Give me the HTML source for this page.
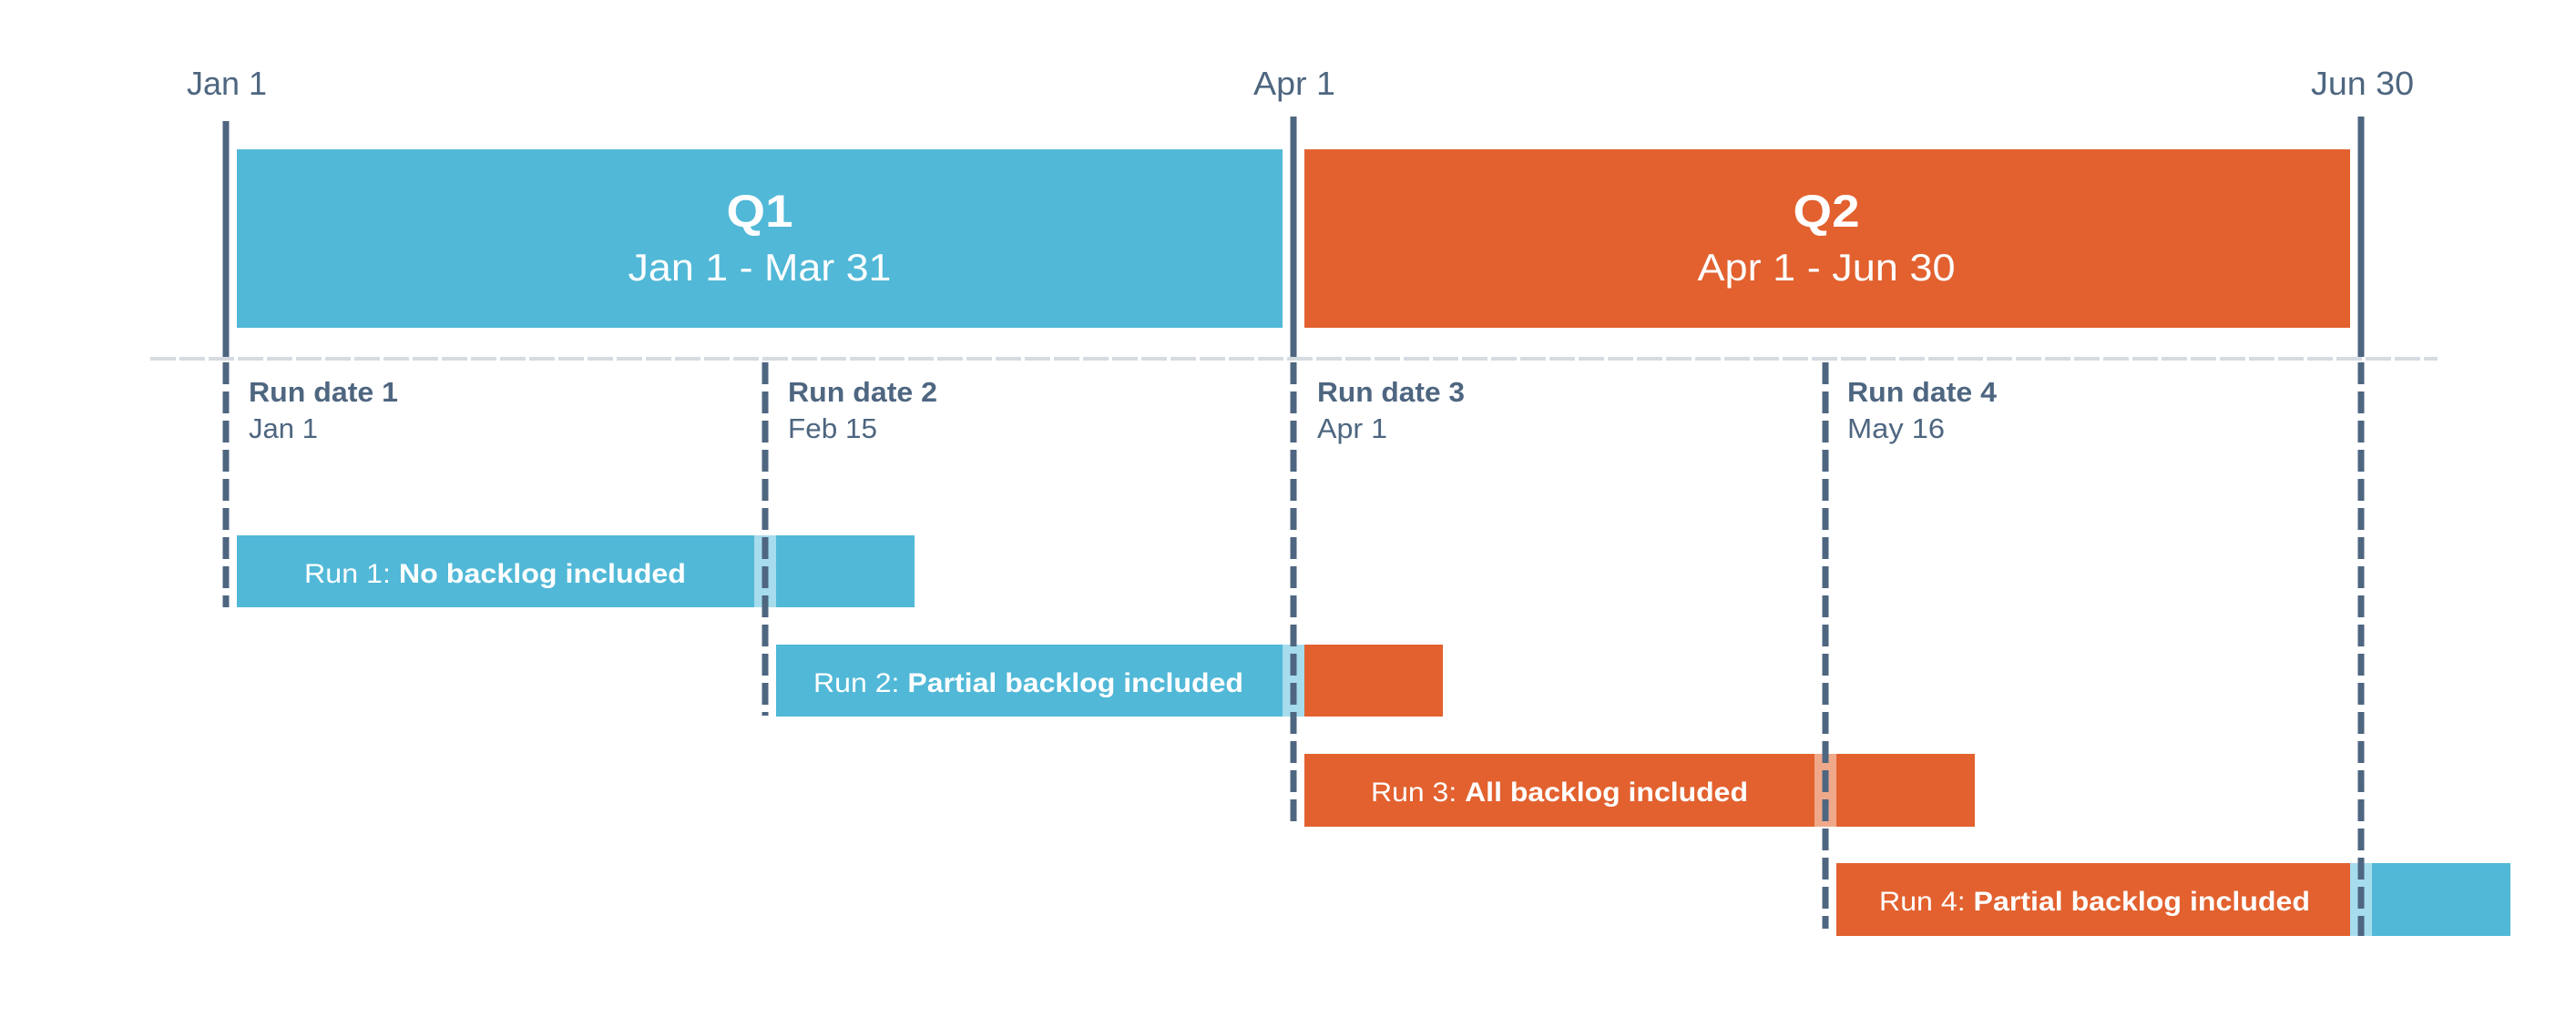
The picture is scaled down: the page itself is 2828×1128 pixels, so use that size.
<!DOCTYPE html>
<html><head><meta charset="utf-8"><style>
html,body{margin:0;padding:0;background:#fff;width:2828px;height:1128px;overflow:hidden}
text{font-family:"Liberation Sans",sans-serif}
</style></head><body>
<svg width="2828" height="1128" viewBox="0 0 2828 1128" xmlns="http://www.w3.org/2000/svg">
<g fill="#4e6680" font-size="36">
<text x="205" y="104" textLength="88" lengthAdjust="spacingAndGlyphs">Jan 1</text>
<text x="1376" y="104" textLength="90" lengthAdjust="spacingAndGlyphs">Apr 1</text>
<text x="2537" y="104" textLength="113" lengthAdjust="spacingAndGlyphs">Jun 30</text>
</g>
<rect x="260" y="164" width="1148" height="196" fill="#51b8d7"/>
<rect x="1432" y="164" width="1148" height="196" fill="#e2612f"/>
<g fill="#fff" text-anchor="middle">
<text x="834" y="249" font-size="50" font-weight="bold" textLength="73" lengthAdjust="spacingAndGlyphs">Q1</text>
<text x="834" y="308" font-size="42" textLength="289" lengthAdjust="spacingAndGlyphs">Jan 1 - Mar 31</text>
<text x="2005" y="249" font-size="50" font-weight="bold" textLength="73" lengthAdjust="spacingAndGlyphs">Q2</text>
<text x="2005" y="308" font-size="42" textLength="283" lengthAdjust="spacingAndGlyphs">Apr 1 - Jun 30</text>
</g>
<!-- bars -->
<rect x="260" y="588" width="568" height="79" fill="#51b8d7"/>
<rect x="828" y="588" width="24" height="79" fill="#a6dcec"/>
<rect x="852" y="588" width="152" height="79" fill="#51b8d7"/>

<rect x="852" y="708" width="556" height="79" fill="#51b8d7"/>
<rect x="1408" y="708" width="24" height="79" fill="#a6dcec"/>
<rect x="1432" y="708" width="152" height="79" fill="#e2612f"/>

<rect x="1432" y="828" width="560" height="80" fill="#e2612f"/>
<rect x="1992" y="828" width="24" height="80" fill="#efa98a"/>
<rect x="2016" y="828" width="152" height="80" fill="#e2612f"/>

<rect x="2016" y="948" width="564" height="80" fill="#e2612f"/>
<rect x="2580" y="948" width="24" height="80" fill="#a6dcec"/>
<rect x="2604" y="948" width="152" height="80" fill="#51b8d7"/>

<g fill="#fff" font-size="30">
<text x="334" y="640" textLength="419" lengthAdjust="spacingAndGlyphs">Run 1: <tspan font-weight="bold">No backlog included</tspan></text>
<text x="893" y="760" textLength="472" lengthAdjust="spacingAndGlyphs">Run 2: <tspan font-weight="bold">Partial backlog included</tspan></text>
<text x="1505" y="880" textLength="414" lengthAdjust="spacingAndGlyphs">Run 3: <tspan font-weight="bold">All backlog included</tspan></text>
<text x="2063" y="1000" textLength="473" lengthAdjust="spacingAndGlyphs">Run 4: <tspan font-weight="bold">Partial backlog included</tspan></text>
</g>
<!-- horizontal dashed -->
<line x1="165" y1="394" x2="2676" y2="394" stroke="#d5dbe1" stroke-width="4" stroke-dasharray="28 4"/>
<!-- vertical lines -->
<g stroke="#4e6680" stroke-width="7">
<line x1="248" y1="133" x2="248" y2="392"/>
<line x1="1420" y1="128" x2="1420" y2="392"/>
<line x1="2592" y1="128" x2="2592" y2="392"/>
</g>
<g stroke="#4e6680" stroke-width="7" stroke-dasharray="24 8">
<line x1="248" y1="398" x2="248" y2="667"/>
<line x1="840" y1="398" x2="840" y2="786"/>
<line x1="1420" y1="398" x2="1420" y2="904"/>
<line x1="2004" y1="398" x2="2004" y2="1020"/>
<line x1="2592" y1="398" x2="2592" y2="1028"/>
</g>
<g fill="#4e6680">
<text x="273" y="441" font-size="31" font-weight="bold" textLength="164" lengthAdjust="spacingAndGlyphs">Run date 1</text>
<text x="273" y="481" font-size="31" textLength="76" lengthAdjust="spacingAndGlyphs">Jan 1</text>
<text x="865" y="441" font-size="31" font-weight="bold" textLength="164" lengthAdjust="spacingAndGlyphs">Run date 2</text>
<text x="865" y="481" font-size="31" textLength="98" lengthAdjust="spacingAndGlyphs">Feb 15</text>
<text x="1446" y="441" font-size="31" font-weight="bold" textLength="162" lengthAdjust="spacingAndGlyphs">Run date 3</text>
<text x="1446" y="481" font-size="31" textLength="77" lengthAdjust="spacingAndGlyphs">Apr 1</text>
<text x="2028" y="441" font-size="31" font-weight="bold" textLength="164" lengthAdjust="spacingAndGlyphs">Run date 4</text>
<text x="2028" y="481" font-size="31" textLength="107" lengthAdjust="spacingAndGlyphs">May 16</text>
</g>
</svg>
</body></html>
